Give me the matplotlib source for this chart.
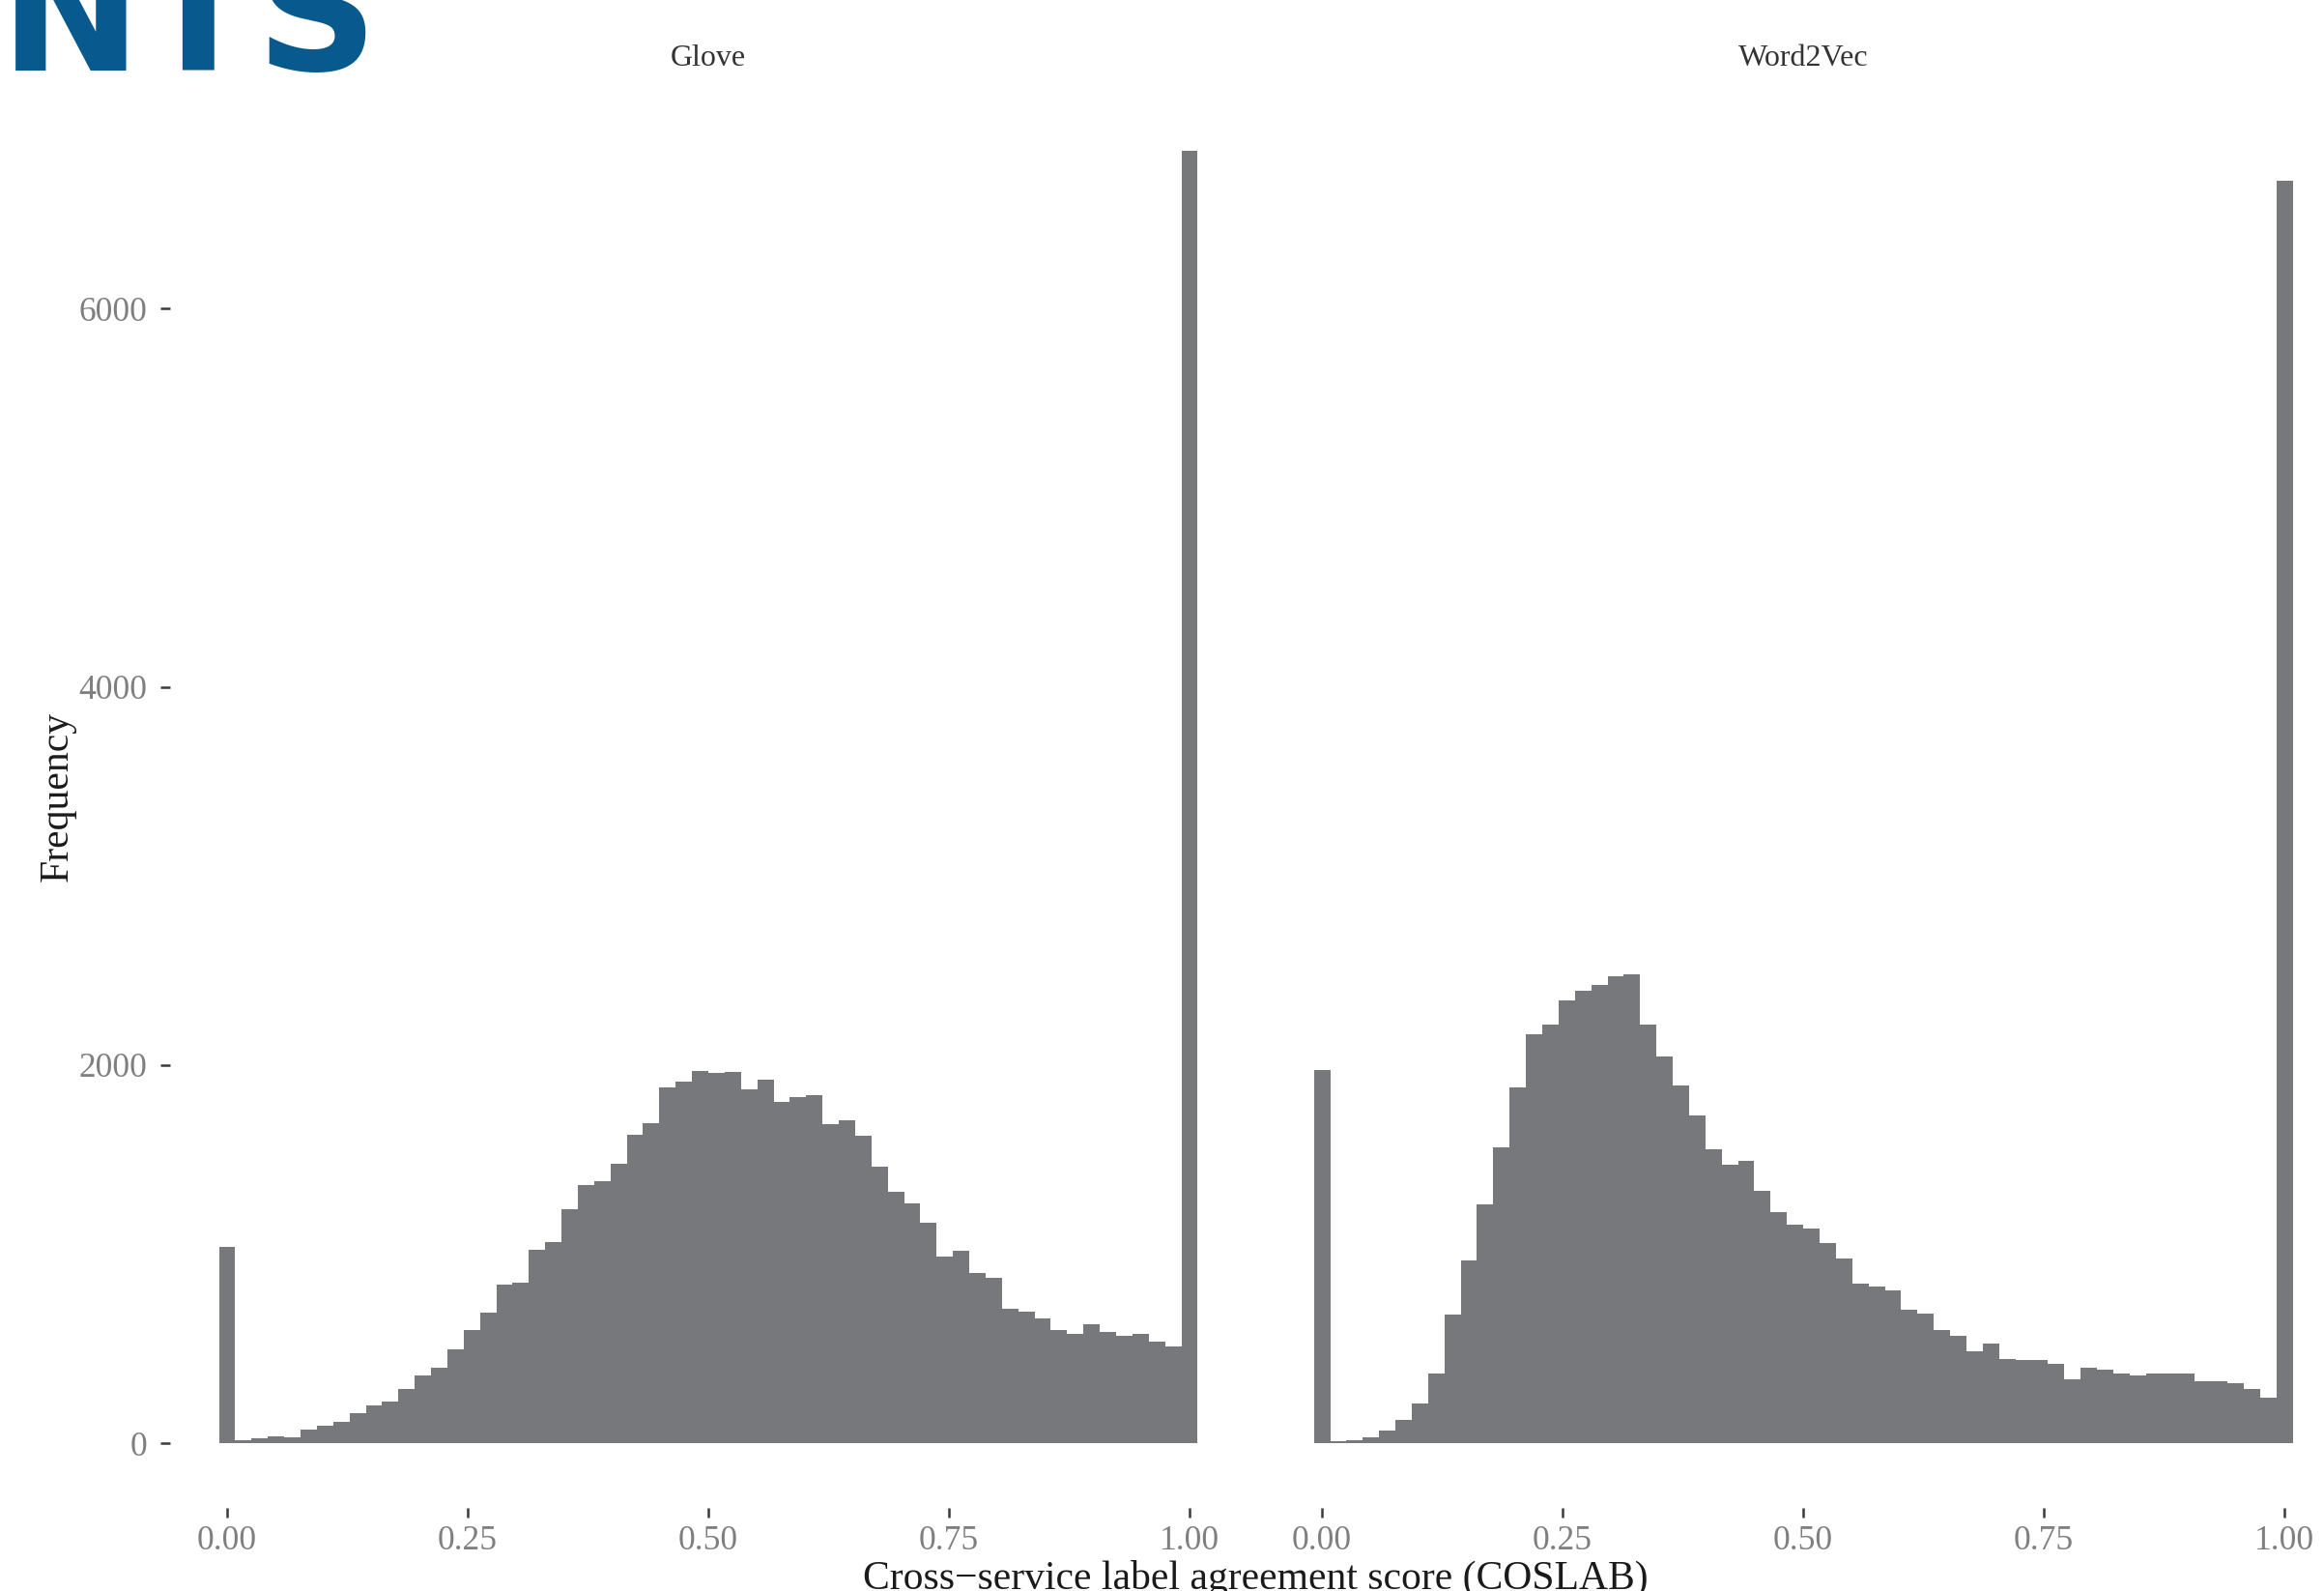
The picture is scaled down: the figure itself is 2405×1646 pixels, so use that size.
import matplotlib
matplotlib.use("Agg")
import matplotlib.pyplot as plt
import numpy as np

# histogram counts (60 bins from 0 to 1)
glove_counts = [1037, 15, 27, 37, 31, 70, 95, 111, 160, 200, 218, 288, 358, 399, 498, 598, 689, 837, 851, 1025,
                1066, 1238, 1364, 1386, 1477, 1633, 1695, 1884, 1915, 1971, 1956, 1962, 1874, 1923, 1807, 1833,
                1843, 1686, 1707, 1625, 1465, 1328, 1267, 1166, 989, 1016, 900, 876, 709, 697, 660, 598, 578,
                627, 588, 568, 576, 537, 510, 6835]
w2v_counts = [1973, 9, 14, 31, 68, 123, 210, 367, 679, 968, 1265, 1565, 1884, 2165, 2215, 2341, 2392, 2423, 2472,
              2481, 2213, 2043, 1893, 1736, 1555, 1475, 1495, 1335, 1224, 1156, 1136, 1057, 975, 844, 827, 806,
              706, 687, 597, 566, 486, 525, 447, 438, 438, 418, 338, 397, 387, 367, 358, 367, 367, 367, 327, 327,
              315, 286, 239, 6675]
panels = ['Glove', 'Word2Vec']
x_ticks = [0.0, 0.25, 0.5, 0.75, 1.0]
x_ticklabels = ['0.00', '0.25', '0.50', '0.75', '1.00']
y_ticks = [0, 2000, 4000, 6000]

n_bins = len(glove_counts)
centers = np.linspace(0, 1, n_bins)
bw = 1 / (n_bins - 1)

W, H = 2405, 1646
fig = plt.figure(figsize=(W / 100, H / 100), dpi=100)
plt.rcParams['font.family'] = ['Liberation Serif', 'DejaVu Serif']

bar_color = '#77787c'
tick_grey = '#7f7f7f'

ax1 = fig.add_axes([176 / W, 86 / H, 1114 / W, 1470 / H])
ax2 = fig.add_axes([1309 / W, 86 / H, (W - 1309) / W, 1470 / H])

for ax, counts in [(ax1, glove_counts), (ax2, w2v_counts)]:
    ax.bar(centers, counts, width=bw, color=bar_color, linewidth=0, align='center')
    ax.set_ylim(-342, 7173)
    ax.set_xticks(x_ticks)
    ax.set_xticklabels(x_ticklabels)
    for s in ax.spines.values():
        s.set_visible(False)
    ax.tick_params(axis='x', length=7, width=1.8, color='#3a3a3a', pad=6,
                   labelsize=25.5, labelcolor=tick_grey)

ax1.set_xlim(-0.0593, 1.0593)
ax2.set_xlim(-0.0593, 1.041)

ax1.set_yticks(y_ticks)
ax1.set_yticklabels([str(v) for v in y_ticks])
ax1.tick_params(axis='y', length=7, width=1.8, color='#3a3a3a', pad=10,
                labelsize=25.5, labelcolor=tick_grey)
ax2.set_yticks([])

# facet strip titles
fig.text(733 / W, 1 - 60 / H, panels[0], ha='center', va='center', fontsize=23, color='#333333')
fig.text(1866 / W, 1 - 60 / H, panels[1], ha='center', va='center', fontsize=23, color='#333333')

# axis titles
fig.text(60 / W, 1 - 824 / H, 'Frequency', rotation=90, ha='center', va='center',
         fontsize=30, color='#1a1a1a')
fig.text(1299 / W, 1 - 1644 / H, 'Cross\u2212service label agreement score (COSLAB)',
         ha='center', va='baseline', fontsize=30, color='#1a1a1a')

# cropped logo text at top left
fig.text(0 / W, 1 - 73 / H, 'NTS', ha='left', va='baseline', fontsize=126,
         fontweight='bold', color='#08598e', family=['DejaVu Sans'])

fig.savefig('out.png', dpi=100, facecolor='white')
